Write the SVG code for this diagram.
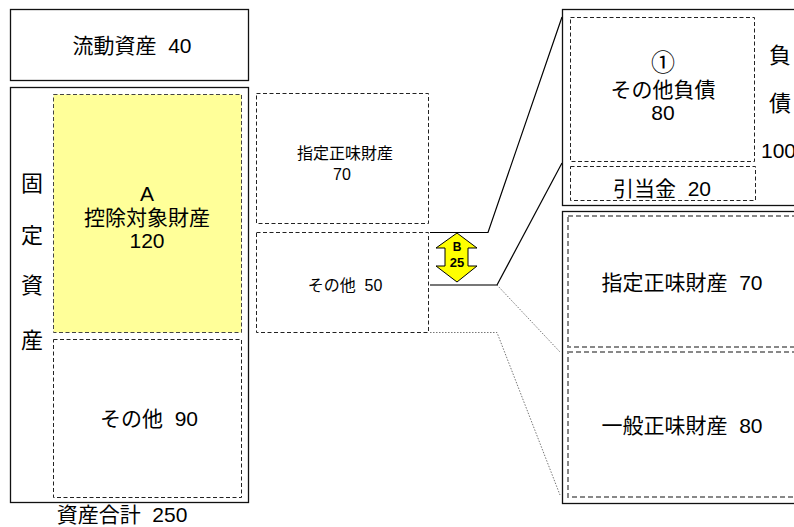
<svg xmlns="http://www.w3.org/2000/svg" width="794" height="527" viewBox="0 0 794 527">
<style>
text{font-family:"Liberation Sans","Noto Sans CJK JP",sans-serif;fill:#000;white-space:pre;text-anchor:middle}
.t21{font-size:21px}
.t22{font-size:22px}
.t16{font-size:16px}
.cjk{font-family:"Noto Sans CJK JP",sans-serif}
.box{fill:#fff;stroke:#111;stroke-width:1.3}
.dash{fill:none;stroke:#222;stroke-width:1;stroke-dasharray:4 2.5}
.gdash{fill:none;stroke:#888;stroke-width:2;stroke-dasharray:5 3}
.yel{fill:#FFFF99;stroke:#444;stroke-width:1;stroke-dasharray:4 2.5}
.ln{fill:none;stroke:#000;stroke-width:1.2}
.gl{fill:none;stroke:#777;stroke-width:2}
.dot{fill:none;stroke:#777;stroke-width:1;stroke-dasharray:1.5 1.5}
.arr{fill:#FFFF00;stroke:#000;stroke-width:1}
.b{font-weight:bold}
</style>
<rect width="794" height="527" fill="#fff"/>

<g id="current-assets">
<rect class="box" x="10.5" y="9.5" width="238" height="71"/>
<text class="t21" x="132" y="53">流動資産  40</text>
</g>

<g id="fixed-assets">
<rect class="box" x="10.5" y="87.5" width="238" height="415"/>
<text class="t22" x="32" y="191">固</text>
<text class="t22" x="32" y="243">定</text>
<text class="t22" x="32" y="293">資</text>
<text class="t22" x="32" y="348">産</text>
</g>

<g id="deductible-assets">
<rect class="yel" x="53.5" y="94.5" width="188" height="238"/>
<text class="t21" x="147" y="201">A</text>
<text class="t21" x="147" y="225">控除対象財産</text>
<text class="t21" x="147" y="248">120</text>
</g>

<g id="other-fixed">
<rect class="dash" x="53.5" y="339.5" width="188" height="158"/>
<text class="t21" x="149" y="426">その他  90</text>
</g>

<g id="total-assets">
<text class="t21" x="122" y="522">資産合計  250</text>
</g>

<g id="mid-designated">
<rect class="dash" x="256.5" y="93.5" width="172" height="130"/>
<text class="t16" x="345" y="159">指定正味財産</text>
<text class="t16" x="342" y="180">70</text>
</g>

<g id="mid-other">
<rect class="dash" x="256.5" y="232.5" width="172" height="100"/>
<text class="t16" x="345" y="291">その他  50</text>
</g>

<g id="connectors">
<polyline class="ln" points="430,232.5 488,232.5 562,17"/>
<polyline class="gl" points="430,285 497,285"/>
<line class="ln" x1="497" y1="285" x2="562" y2="163"/>
<line class="dot" x1="497" y1="285" x2="560" y2="352"/>
<polyline class="dot" points="430,332.5 497,332.5 560,495"/>
</g>

<g id="arrow-b">
<polygon class="arr" points="457,233 477,248 468,248 468,266 477,266 457,282 436,266 445,266 445,248 436,248"/>
<text class="b" style="font-size:12px" x="457" y="251">B</text>
<text class="b" style="font-size:13px" x="457" y="267">25</text>
</g>

<g id="liabilities">
<rect class="box" x="562.5" y="9.5" width="240" height="196"/>
<text class="t22" x="780" y="63">負</text>
<text class="t22" x="780" y="111">債</text>
<text class="t21" x="761" y="158" style="text-anchor:start">100</text>
</g>

<g id="other-liabilities">
<rect class="dash" x="570.5" y="17.5" width="184" height="144"/>
<text class="cjk" style="font-size:24px" x="663" y="71">①</text>
<text class="t21" x="663" y="97">その他負債</text>
<text class="t21" x="663" y="120">80</text>
</g>

<g id="allowance">
<rect class="dash" x="570.5" y="166.5" width="185" height="34"/>
<text class="t21" x="662" y="196">引当金  20</text>
</g>

<g id="net-assets">
<rect class="box" x="562.5" y="211.5" width="240" height="292"/>
</g>

<g id="designated-net">
<rect class="gdash" x="568" y="216" width="240" height="131"/>
<text class="t21" x="682" y="290">指定正味財産  70</text>
</g>

<g id="general-net">
<rect class="gdash" x="568" y="352" width="240" height="145"/>
<text class="t21" x="682" y="433">一般正味財産  80</text>
</g>
</svg>
